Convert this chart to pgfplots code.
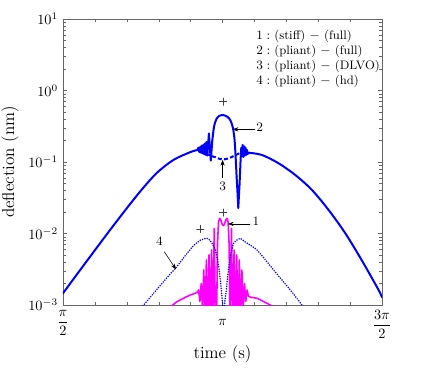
\documentclass[border=0pt]{standalone}
\usepackage{amsmath}
\usepackage{pgfplots}
\pgfplotsset{compat=1.18}
\usetikzlibrary{arrows.meta,calc}
\definecolor{mblue}{RGB}{0,0,255}
\definecolor{mmag}{RGB}{255,0,255}

\begin{document}
\begin{tikzpicture}
\begin{axis}[
  name=ax,
  scale only axis,
  width=223.3pt, height=200.2pt,
  xmin=0.5, xmax=1.5,
  ymin=1e-3, ymax=10,
  ymode=log,
  xtick={0.5,1,1.5},
  xticklabels={$\dfrac{\pi}{2}$,$\vphantom{\dfrac{\pi}{2}}\pi$,$\dfrac{3\pi}{2}$},
  minor x tick num=4,
  ytick={1e-3,1e-2,1e-1,1,10},
  xlabel={time (s)},
  ylabel={deflection (nm)},
  label style={font=\large},
  xlabel style={yshift=2pt},
  axis line style={gray!80!black},
  tick style={gray!80!black},
  major tick length=3pt,
  minor tick length=2pt,
  clip=true,
  every axis plot/.append style={line join=round, line cap=round},
]
  %% 1 : (stiff) - (full)
  \addplot[mmag, line width=1.1pt, smooth] coordinates {
    (0.8364,9.33e-4)(0.8552,1.096e-3)(0.8781,1.242e-3)(0.8991,1.380e-3)
    (0.9147,1.462e-3)(0.9216,1.514e-3)
  };
  \addplot[mmag, line width=1.1pt] coordinates {
    (0.9216,1.514e-3)(0.9251,1.622e-3)(0.9292,1.122e-3)
    (0.9332,1.995e-3)(0.9373,8.91e-4)(0.9414,3.09e-3)(0.9455,6.31e-4)
    (0.9495,4.27e-3)(0.9536,5.0e-4)(0.9577,5.01e-3)(0.9618,5.0e-4)
    (0.9658,5.89e-3)(0.9699,5.0e-4)(0.9740,1.175e-2)(0.9781,5.0e-4)
    (0.9812,5.0e-4)(0.9843,7.08e-3)(0.9875,1.445e-2)(0.9909,1.633e-2)
    (0.9947,1.549e-2)(0.9987,1.349e-2)(1.0025,1.288e-2)(1.0063,1.349e-2)
    (1.0103,1.549e-2)(1.0141,1.633e-2)(1.0176,1.445e-2)(1.0207,7.08e-3)
    (1.0238,5.0e-4)(1.0282,1.175e-2)(1.0323,5.0e-4)(1.0364,5.89e-3)
    (1.0404,5.0e-4)(1.0445,5.01e-3)(1.0486,5.0e-4)(1.0527,4.27e-3)
    (1.0567,6.31e-4)(1.0608,3.09e-3)(1.0649,8.91e-4)(1.0690,1.995e-3)
    (1.0730,1.122e-3)(1.0771,1.622e-3)(1.0809,1.349e-3)
  };
  \addplot[mmag, line width=1.1pt, smooth] coordinates {
    (1.0809,1.349e-3)(1.0871,1.288e-3)
    (1.1082,1.242e-3)(1.1279,1.122e-3)(1.1498,1.0e-3)(1.1561,9.55e-4)
  };
  %% 2 : (pliant) - (full)
  \addplot[mblue, line width=1.4pt, smooth] coordinates {
    (0.5000,1.459e-3)(0.5439,2.692e-3)(0.5959,5.521e-3)(0.6483,0.01132)
    (0.7006,0.02275)(0.7470,0.04121)(0.7947,0.07079)(0.8467,0.1072)
    (0.8991,0.1374)(0.9210,0.1472)
  };
  \addplot[mblue, line width=1.4pt] coordinates {
    (0.9210,0.1472)(0.9248,0.1585)
    (0.9273,0.1380)(0.9298,0.1622)(0.9323,0.1349)(0.9348,0.1698)
    (0.9373,0.1318)(0.9398,0.1738)(0.9423,0.1288)(0.9448,0.1820)
    (0.9473,0.1259)(0.9498,0.1905)(0.9524,0.1230)(0.9574,0.2512)
    (0.9633,0.1047)(0.9680,0.1995)
  };
  \addplot[mblue, line width=1.4pt, smooth] coordinates {
    (0.9680,0.1995)(0.9734,0.3119)(0.9806,0.3954)
    (0.9890,0.4395)(1.0016,0.4539)(1.0150,0.4305)(1.0254,0.3784)
    (1.0329,0.2965)(1.0379,0.2032)(1.0411,0.1186)(1.0442,0.0622)
  };
  \addplot[mblue, line width=1.4pt] coordinates {
    (1.0442,0.0622)(1.0473,0.0355)(1.0495,0.02265)(1.0517,0.0355)(1.0536,0.0501)
    (1.0567,0.1067)(1.0589,0.1585)(1.0611,0.1202)(1.0633,0.1738)
    (1.0655,0.1175)(1.0677,0.1660)(1.0699,0.1230)(1.0721,0.1585)
    (1.0743,0.1259)(1.0765,0.1479)(1.0787,0.1288)(1.0809,0.1350)
  };
  \addplot[mblue, line width=1.4pt, smooth] coordinates {
    (1.0809,0.1350)(1.1238,0.1253)(1.1759,0.0959)(1.2282,0.0658)
    (1.2806,0.04055)(1.3326,0.02133)(1.3850,0.01007)(1.4373,4.169e-3)
    (1.4893,1.622e-3)(1.5000,1.282e-3)
  };
  %% 3 : (pliant) - (DLVO)
  \addplot[mblue, line width=1.4pt, smooth, line cap=butt, dash pattern=on 2.8pt off 1.6pt] coordinates {
    (0.9492,0.1318)(0.9577,0.1253)(0.9680,0.1202)(0.9784,0.1164)
    (0.9900,0.1109)(1.0016,0.1084)(1.0119,0.1104)(1.0204,0.1127)
    (1.0307,0.1189)(1.0411,0.1253)(1.0495,0.1303)(1.0589,0.1349)
  };
  %% 4 : (pliant) - (hd)
  \addplot[mblue, line width=1.2pt, smooth, tension=0.4, dash pattern=on 0pt off 1.7pt] coordinates {
    (0.7455,9.12e-4)(0.7527,1.0e-3)(0.7737,1.288e-3)(0.8050,1.875e-3)
    (0.8364,2.723e-3)(0.8574,3.467e-3)(0.8834,4.898e-3)(0.9094,6.761e-3)
    (0.9304,8.035e-3)(0.9514,8.570e-3)(0.9618,7.943e-3)(0.9671,7.295e-3)
    (0.9774,5.875e-3)(0.9846,4.266e-3)(0.9909,2.773e-3)(0.9962,1.622e-3)
    (1.0003,1.0e-3)(1.0034,3.16e-4)(1.0066,1.0e-3)(1.0119,1.622e-3)
    (1.0172,2.773e-3)(1.0245,4.732e-3)(1.0348,7.295e-3)(1.0505,8.375e-3)
    (1.0558,8.570e-3)(1.0715,7.586e-3)(1.1082,5.875e-3)(1.1602,3.090e-3)
    (1.2125,1.622e-3)(1.2492,1.0e-3)(1.2564,9.12e-4)
  };
  %% maxima
  \addplot[only marks, mark=+, mark size=2.6pt, black!75] coordinates {
    (1.0016,0.697)(1.0016,0.0196)(0.9304,0.0116)
  };

  %% annotations
  \draw[-{Stealth[length=4pt,width=3pt]}, thin] (axis cs:1.1028,0.286) -- (axis cs:1.0317,0.286);
  \node[font=\small] at (axis cs:1.1163,0.302) {2};
  \draw[-{Stealth[length=4pt,width=3pt]}, thin] (axis cs:1.0003,0.0591) -- (axis cs:1.0003,0.107);
  \node[font=\small] at (axis cs:1.0003,0.0461) {3};
  \draw[-{Stealth[length=4pt,width=3pt]}, thin] (axis cs:1.0871,0.0136) -- (axis cs:1.0172,0.0136);
  \node[font=\small] at (axis cs:1.1050,0.01462) {1};
  \draw[-{Stealth[length=4pt,width=3pt]}, thin] (axis cs:0.8176,5.56e-3) -- (axis cs:0.8542,3.15e-3);
  \node[font=\small] at (axis cs:0.8019,7.9e-3) {4};

  \node[anchor=north west, align=left, font=\fontsize{8.6}{10.5}\selectfont, inner sep=0pt]
    at (rel axis cs:0.605,0.963) {%
    $1:$ (stiff) $-$ (full)\\
    $2:$ (pliant) $-$ (full)\\
    $3:$ (pliant) $-$ (DLVO)\\
    $4:$ (pliant) $-$ (hd)};
\end{axis}
\pgfresetboundingbox
\path ($(ax.south west)+(-44.1pt,-53.9pt)$) rectangle ($(ax.north east)+(29.4pt,13.3pt)$);
\end{tikzpicture}
\end{document}
